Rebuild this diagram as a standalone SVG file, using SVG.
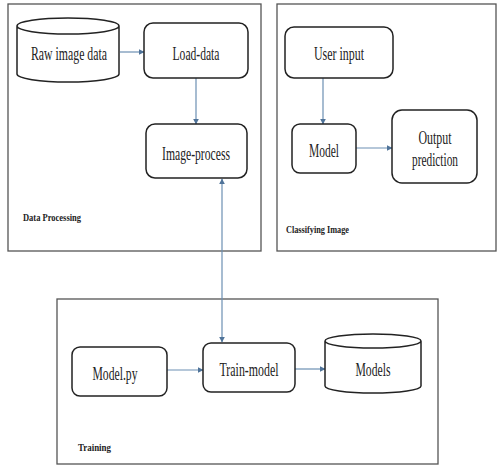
<svg xmlns="http://www.w3.org/2000/svg" width="498" height="465" viewBox="0 0 498 465">
<defs>
<style>
.frame{fill:none;stroke:#555;stroke-width:1.3}
.box{fill:#fff;stroke:#222;stroke-width:1.5}
.lbl{font-family:"Liberation Serif","Times New Roman",serif;font-size:18.5px;fill:#222;text-anchor:middle}
.cap{font-family:"Liberation Serif","Times New Roman",serif;font-size:11px;font-weight:bold;fill:#222}
.con{fill:none;stroke:#6c8fb3;stroke-width:1.2}
</style>
<marker id="ah" viewBox="0 0 10 10" refX="9" refY="5" markerWidth="6" markerHeight="6" orient="auto-start-reverse" markerUnits="userSpaceOnUse">
<path d="M0,0 L10,5 L0,10 z" fill="#4f7399"/>
</marker>
</defs>
<rect width="498" height="465" fill="#fff"/>
<g id="frame-data-processing">
<rect class="frame" x="8" y="4" width="253" height="247"/>
<text class="cap" x="23" y="221" textLength="58" lengthAdjust="spacingAndGlyphs">Data Processing</text>
</g>
<g id="frame-classifying">
<rect class="frame" x="277" y="4" width="219" height="247"/>
<text class="cap" x="286" y="233" textLength="63" lengthAdjust="spacingAndGlyphs">Classifying Image</text>
</g>
<g id="frame-training">
<rect class="frame" x="57" y="299" width="381" height="165"/>
<text class="cap" x="78" y="451" textLength="33" lengthAdjust="spacingAndGlyphs">Training</text>
</g>
<g id="connectors">
<line class="con" x1="120" y1="52" x2="144" y2="52" marker-end="url(#ah)"/>
<line class="con" x1="196" y1="78" x2="196" y2="124" marker-end="url(#ah)"/>
<line class="con" x1="222" y1="342" x2="222" y2="179" marker-start="url(#ah)" marker-end="url(#ah)"/>
<line class="con" x1="323" y1="78" x2="323" y2="124" marker-end="url(#ah)"/>
<line class="con" x1="356" y1="148" x2="392" y2="148" marker-end="url(#ah)"/>
<line class="con" x1="160" y1="370" x2="203" y2="370" marker-end="url(#ah)"/>
<line class="con" x1="295" y1="369" x2="325" y2="369" marker-end="url(#ah)"/>
</g>
<g id="raw-image-data">
<path class="box" d="M17,26 L17,74 A51,8 0 0 0 119,74 L119,26 A51,8 0 0 0 17,26 A51,8 0 0 0 119,26"/>
<text class="lbl" x="69" y="60" textLength="76" lengthAdjust="spacingAndGlyphs">Raw image data</text>
</g>
<g id="load-data">
<rect class="box" x="144" y="23" width="104" height="55" rx="9"/>
<text class="lbl" x="196" y="59.5" textLength="47" lengthAdjust="spacingAndGlyphs">Load-data</text>
</g>
<g id="image-process">
<rect class="box" x="146" y="124" width="101" height="54" rx="9"/>
<text class="lbl" x="196" y="159.5" textLength="68" lengthAdjust="spacingAndGlyphs">Image-process</text>
</g>
<g id="user-input">
<rect class="box" x="285" y="27" width="108" height="51" rx="9"/>
<text class="lbl" x="339" y="59.5" textLength="50" lengthAdjust="spacingAndGlyphs">User input</text>
</g>
<g id="model">
<rect class="box" x="292" y="124" width="64" height="49" rx="8"/>
<text class="lbl" x="324" y="156.5" textLength="30" lengthAdjust="spacingAndGlyphs">Model</text>
</g>
<g id="output-prediction">
<rect class="box" x="392" y="110" width="85" height="73" rx="10"/>
<text class="lbl" x="435" y="143.5" textLength="33" lengthAdjust="spacingAndGlyphs">Output</text>
<text class="lbl" x="435" y="165.5" textLength="46" lengthAdjust="spacingAndGlyphs">prediction</text>
</g>
<g id="model-py">
<rect class="box" x="72" y="347" width="95" height="49" rx="8"/>
<text class="lbl" x="115" y="379.5" textLength="45" lengthAdjust="spacingAndGlyphs">Model.py</text>
</g>
<g id="train-model">
<rect class="box" x="203" y="343" width="92" height="49" rx="8"/>
<text class="lbl" x="249" y="375.5" textLength="59" lengthAdjust="spacingAndGlyphs">Train-model</text>
</g>
<g id="models">
<path class="box" d="M325,341 L325,386 A48,7 0 0 0 421,386 L421,341 A48,7 0 0 0 325,341 A48,7 0 0 0 421,341"/>
<text class="lbl" x="373" y="375.5" textLength="35" lengthAdjust="spacingAndGlyphs">Models</text>
</g>
</svg>
